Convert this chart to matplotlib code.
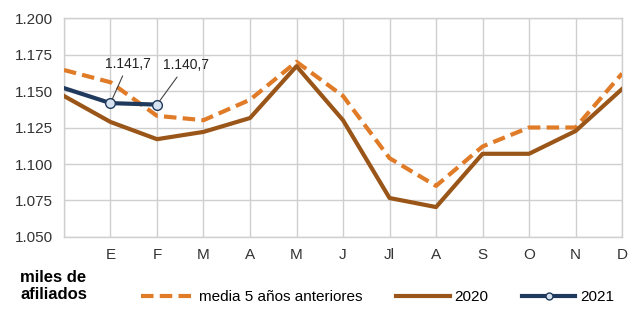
import numpy as np
import matplotlib.pyplot as plt
from matplotlib.lines import Line2D

plt.rcParams['font.family'] = ['Liberation Sans', 'DejaVu Sans']

meses = ["", "E", "F", "M", "A", "M", "J", "Jl", "A", "S", "O", "N", "D"]
media5 = [1164.4, 1156.0, 1133.0, 1130.0, 1144.0, 1170.0, 1146.6, 1104.0, 1085.0, 1112.0, 1125.0, 1125.0, 1162.0]
a2020 = [1146.6, 1128.8, 1117.0, 1122.0, 1131.5, 1167.0, 1130.0, 1076.7, 1070.5, 1107.0, 1107.0, 1122.6, 1151.4]
a2021 = [1152.0, 1141.7, 1140.7]
yticks = [1050, 1075, 1100, 1125, 1150, 1175, 1200]
ylabels = ["1.050", "1.075", "1.100", "1.125", "1.150", "1.175", "1.200"]

c_media = "#E07B28"
c_2020 = "#9A5518"
c_2021 = "#1F3A5C"

fig = plt.figure(figsize=(6.29, 3.11), dpi=100)
ax = fig.add_axes([0.1017, 0.238, 0.8873, 0.704])

x = np.arange(len(meses))
ax.plot(x, media5, color=c_media, lw=3, ls=(0, (3, 1.5)), zorder=3)
ax.plot(x, a2020, color=c_2020, lw=3, zorder=4)
x21 = np.arange(len(a2021))
ax.plot(x21, a2021, color=c_2021, lw=3, zorder=5)
ax.plot(x21[1:], a2021[1:], ls="none", marker="o", ms=7, mfc="#D6E2F0",
        mec=c_2021, mew=1, zorder=6)

# etiquetas de valor
etq = [(1, "1.141,7", (1.38, 1164)), (2, "1.140,7", (2.62, 1163))]
for i, txt, pos in etq:
    ax.annotate(txt, xy=(x21[i], a2021[i]), xytext=pos, fontsize=10,
                ha="center", va="bottom", color="#222222",
                arrowprops=dict(arrowstyle="-", color="#444444", lw=0.8,
                                shrinkA=2, shrinkB=3),
                zorder=7)

ax.set_xlim(0, 12)
ax.set_ylim(1050, 1200)
ax.set_xticks(x)
ax.set_xticklabels(meses, fontsize=11, color="#333333")
ax.set_yticks(yticks)
ax.set_yticklabels(ylabels, fontsize=11, color="#333333")
ax.tick_params(length=0, pad=8)
ax.grid(True, color="#CFCFCF", lw=1)
for s in ax.spines.values():
    s.set_color("#CFCFCF")
    s.set_linewidth(1)

fig.text(0.085, 0.08, "miles de\nafiliados", fontsize=12, fontweight="bold",
         ha="center", va="center", linespacing=1.15)

handles = [
    Line2D([], [], color=c_media, lw=3, ls=(0, (3, 1.5))),
    Line2D([], [], color=c_2020, lw=3),
    Line2D([], [], color=c_2021, lw=3, marker="o", ms=5, mfc="#D6E2F0", mec=c_2021, mew=1),
]
fig.legend(handles, ["media 5 años anteriores", "2020", "2021"], loc="center",
           bbox_to_anchor=(0.6, 0.045), ncol=3, frameon=False, fontsize=11,
           handlelength=3.5, handletextpad=0.3, columnspacing=2.2)

fig.savefig("out.png", dpi=100)
